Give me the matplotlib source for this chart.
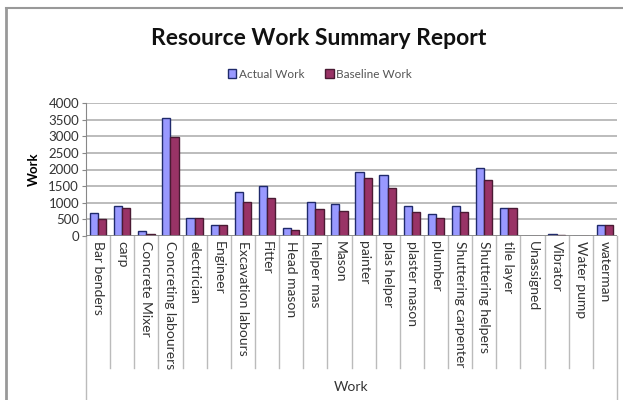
import matplotlib
matplotlib.use("Agg")
import matplotlib.pyplot as plt
from matplotlib.patches import Patch
from matplotlib.lines import Line2D
from matplotlib import transforms

# work hours per resource
resources = ["Bar benders", "carp", "Concrete Mixer", "Concreting labourers",
             "electrician", "Engineer", "Excavation labours", "Fitter",
             "Head mason", "helper mas", "Mason", "painter", "plas helper",
             "plaster mason", "plumber", "Shuttering carpenter",
             "Shuttering helpers", "tile layer", "Unassigned", "Vibrator",
             "Water pump", "waterman"]
actual_work = [700, 900, 140, 3560, 540, 320, 1320, 1500, 240, 1020, 960,
               1920, 1840, 900, 660, 900, 2050, 840, 0, 60, 10, 340]
baseline_work = [500, 840, 70, 2970, 540, 320, 1020, 1140, 180, 820, 760,
                 1740, 1440, 720, 540, 720, 1670, 840, 0, 45, 10, 320]
yticks = list(range(0, 4001, 500))

plt.rcParams['font.family'] = ['Lato', 'DejaVu Sans']

W, H = 623, 400
fig = plt.figure(figsize=(W / 100, H / 100), dpi=100)

# plot area in pixels
x0, x1, ytop, ybot = 86, 617, 103, 236
ax = fig.add_axes([x0 / W, 1 - ybot / H, (x1 - x0) / W, (ybot - ytop) / H])

n = len(resources)
pos = list(range(n))
bw = 0.34
ax.bar([p - bw / 2 for p in pos], actual_work, bw, color="#9999FF",
       edgecolor="#1F2A6B", linewidth=1.0, zorder=3, label="Actual Work")
ax.bar([p + bw / 2 for p in pos], baseline_work, bw, color="#993366",
       edgecolor="#4A1A33", linewidth=1.0, zorder=3, label="Baseline Work")

ax.set_xlim(-0.5, n - 0.5)
ax.set_ylim(0, 4000)
ax.set_yticks(yticks)
ax.set_yticklabels([str(v) for v in yticks], fontsize=9.5, color="#333333")
ax.tick_params(axis="y", length=3, color="#888888", pad=2)
ax.set_xticks([])
ax.grid(axis="y", color="#B0B0B0", linewidth=1.2, zorder=0)
for s in ["top", "right", "bottom"]:
    ax.spines[s].set_visible(False)
ax.spines["left"].set_color("#888888")
ax.axhline(0, color="#888888", linewidth=1.2, zorder=4)

# category axis: divider lines and rotated labels
trans = transforms.blended_transform_factory(ax.transData, ax.transAxes)
row_bottom = -(368 - ybot) / (ybot - ytop)
outer_bottom = -(H - ybot + 2) / (ybot - ytop)
for i in range(n + 1):
    yb = outer_bottom if i in (0, n) else row_bottom
    ax.add_line(Line2D([i - 0.5, i - 0.5], [0, yb], transform=trans,
                       color="#BBBBBB", linewidth=1.0, clip_on=False))
for i, name in enumerate(resources):
    ax.text(i, -0.04, name, transform=trans, rotation=270, ha="center",
            va="top", fontsize=10, color="#333333")
ax.text(0.5, -(387 - ybot) / (ybot - ytop), "Work", transform=ax.transAxes,
        ha="center", va="center", fontsize=10, color="#333333")

ax.set_ylabel("Work", fontsize=9.5, fontweight="bold", labelpad=6)

fig.text(319 / W, 1 - 45 / H, "Resource Work Summary Report", ha="center",
         va="baseline", fontsize=16.5, fontweight="bold", color="#111111")

handles = [Patch(facecolor="#9999FF", edgecolor="#1F2A6B", label="Actual Work"),
           Patch(facecolor="#993366", edgecolor="#4A1A33", label="Baseline Work")]
fig.legend(handles=handles, loc="center", bbox_to_anchor=(320 / W, 1 - 74 / H),
           ncol=2, frameon=False, fontsize=8.5, handlelength=0.7,
           handleheight=0.7, handletextpad=0.2, columnspacing=1.8,
           labelcolor="#555555")

# chart border
fig.add_artist(Line2D([6 / W, 6 / W], [0, 1 - 8 / H], transform=fig.transFigure,
                      color="#999999", linewidth=2))
fig.add_artist(Line2D([6 / W, 1], [1 - 8 / H, 1 - 8 / H], transform=fig.transFigure,
                      color="#999999", linewidth=1.5))

fig.savefig("out.png", dpi=100)
